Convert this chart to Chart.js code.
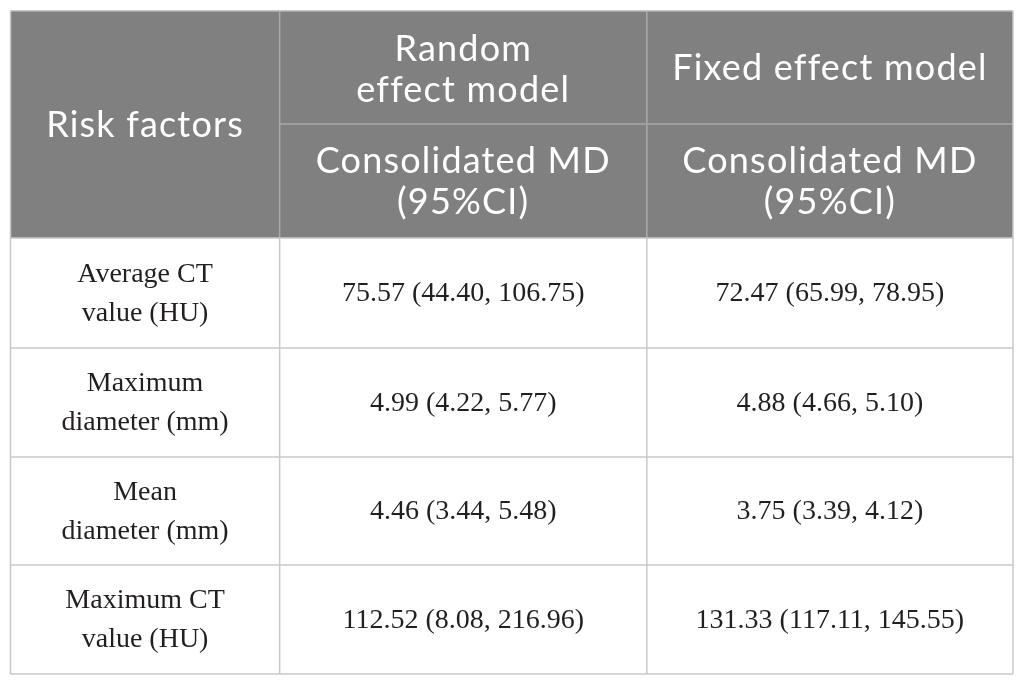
<!DOCTYPE html>
<html>
<head>
<meta charset="utf-8">
<script src="https://cdn.jsdelivr.net/npm/chart.js@4.4.1/dist/chart.umd.min.js"></script>
<style>
  html, body { margin: 0; padding: 0; background: #fff; }
  #wrap { width: 1025px; height: 685px; }
</style>
</head>
<body>
<div id="wrap"><canvas id="table"></canvas></div>
<script>
// table content
const riskFactors = [
  ["Average CT", "value (HU)"],
  ["Maximum", "diameter (mm)"],
  ["Mean", "diameter (mm)"],
  ["Maximum CT", "value (HU)"],
];
const randomMD = [75.57, 4.99, 4.46, 112.52];
const randomLow = [44.40, 4.22, 3.44, 8.08];
const randomHigh = [106.75, 5.77, 5.48, 216.96];
const fixedMD = [72.47, 4.88, 3.75, 131.33];
const fixedLow = [65.99, 4.66, 3.39, 117.11];
const fixedHigh = [78.95, 5.10, 4.12, 145.55];

const headTop = ["Risk factors", ["Random", "effect model"], ["Fixed effect model"]];
const headSub = ["Consolidated MD", "(95%CI)"];

// layout in scale units (x: 0..1002, y: 0..663)
const colEdges = [0, 269, 636, 1002];
const rowEdges = [0, 113, 227, 337, 446, 554, 663];

const fmt = (v, lo, hi) => `${v.toFixed(2)} (${lo.toFixed(2)}, ${hi.toFixed(2)})`;

const HEAD_FONT = '36px Lato, "Open Sans", sans-serif';
const BODY_FONT = '28px "Liberation Serif", "DejaVu Serif", serif';

const tablePlugin = {
  id: "tablePlugin",
  beforeDatasetsDraw(chart) {
    const { ctx, scales } = chart;
    const X = (v) => scales.x.getPixelForValue(v);
    const Y = (v) => scales.y.getPixelForValue(v);

    ctx.save();
    // header background
    ctx.fillStyle = "#7f807f";
    ctx.fillRect(X(0), Y(0), X(1002) - X(0), Y(rowEdges[2]) - Y(0));

    const line = (x1, y1, x2, y2, color) => {
      ctx.strokeStyle = color;
      ctx.lineWidth = 1.5;
      ctx.beginPath();
      ctx.moveTo(X(x1), Y(y1));
      ctx.lineTo(X(x2), Y(y2));
      ctx.stroke();
    };

    // lines inside header
    line(colEdges[1], 0, colEdges[1], rowEdges[2], "#a9a9a9");
    line(colEdges[2], 0, colEdges[2], rowEdges[2], "#a9a9a9");
    line(colEdges[1], rowEdges[1], colEdges[3], rowEdges[1], "#a9a9a9");

    // body lines
    const grid = "#c8c8c8";
    for (let r = 3; r < rowEdges.length - 1; r++) {
      line(0, rowEdges[r], colEdges[3], rowEdges[r], grid);
    }
    line(colEdges[1], rowEdges[2], colEdges[1], rowEdges[6], grid);
    line(colEdges[2], rowEdges[2], colEdges[2], rowEdges[6], grid);
    // outer border
    line(0, 0, colEdges[3], 0, "#b5b5b5");
    line(0, rowEdges[2], colEdges[3], rowEdges[2], grid);
    line(0, 0, 0, rowEdges[6], grid);
    line(colEdges[3], 0, colEdges[3], rowEdges[6], grid);
    line(0, rowEdges[6], colEdges[3], rowEdges[6], grid);

    const textBlock = (lines, cx, cy, font, color, gap, spacing) => {
      ctx.font = font;
      ctx.fillStyle = color;
      ctx.textAlign = "center";
      ctx.textBaseline = "middle";
      ctx.letterSpacing = spacing;
      const start = cy - ((lines.length - 1) * gap) / 2;
      lines.forEach((t, i) => ctx.fillText(t, cx, start + i * gap));
      ctx.letterSpacing = "0px";
    };
    const midX = (c) => X((colEdges[c] + colEdges[c + 1]) / 2);
    const midY = (a, b) => Y((rowEdges[a] + rowEdges[b]) / 2);

    // header text
    const hs = "1.2px";
    textBlock([headTop[0]], midX(0), midY(0, 2) + 1, HEAD_FONT, "#fff", 41, hs);
    textBlock(headTop[1], midX(1), midY(0, 1) + 2, HEAD_FONT, "#fff", 41, hs);
    textBlock(headTop[2], midX(2), midY(0, 1) + 1, HEAD_FONT, "#fff", 41, hs);
    textBlock(headSub, midX(1), midY(1, 2) + 1, HEAD_FONT, "#fff", 41, hs);
    textBlock(headSub, midX(2), midY(1, 2) + 1, HEAD_FONT, "#fff", 41, hs);

    // body text
    riskFactors.forEach((rf, i) => {
      const cy = midY(i + 2, i + 3) + 1;
      textBlock(rf, midX(0), cy, BODY_FONT, "#231f20", 39, "0px");
      textBlock([fmt(randomMD[i], randomLow[i], randomHigh[i])], midX(1), cy, BODY_FONT, "#231f20", 39, "0px");
      textBlock([fmt(fixedMD[i], fixedLow[i], fixedHigh[i])], midX(2), cy, BODY_FONT, "#231f20", 39, "0px");
    });
    ctx.restore();
  },
};

new Chart(document.getElementById("table"), {
  type: "scatter",
  data: { datasets: [{ data: [] }] },
  options: {
    responsive: true,
    maintainAspectRatio: false,
    animation: false,
    layout: { padding: { left: 10.5, top: 11, right: 12, bottom: 11 } },
    plugins: { legend: { display: false }, tooltip: { enabled: false } },
    scales: {
      x: { type: "linear", min: 0, max: 1002, display: false },
      y: { type: "linear", min: 0, max: 663, reverse: true, display: false },
    },
  },
  plugins: [tablePlugin],
});
</script>
</body>
</html>
